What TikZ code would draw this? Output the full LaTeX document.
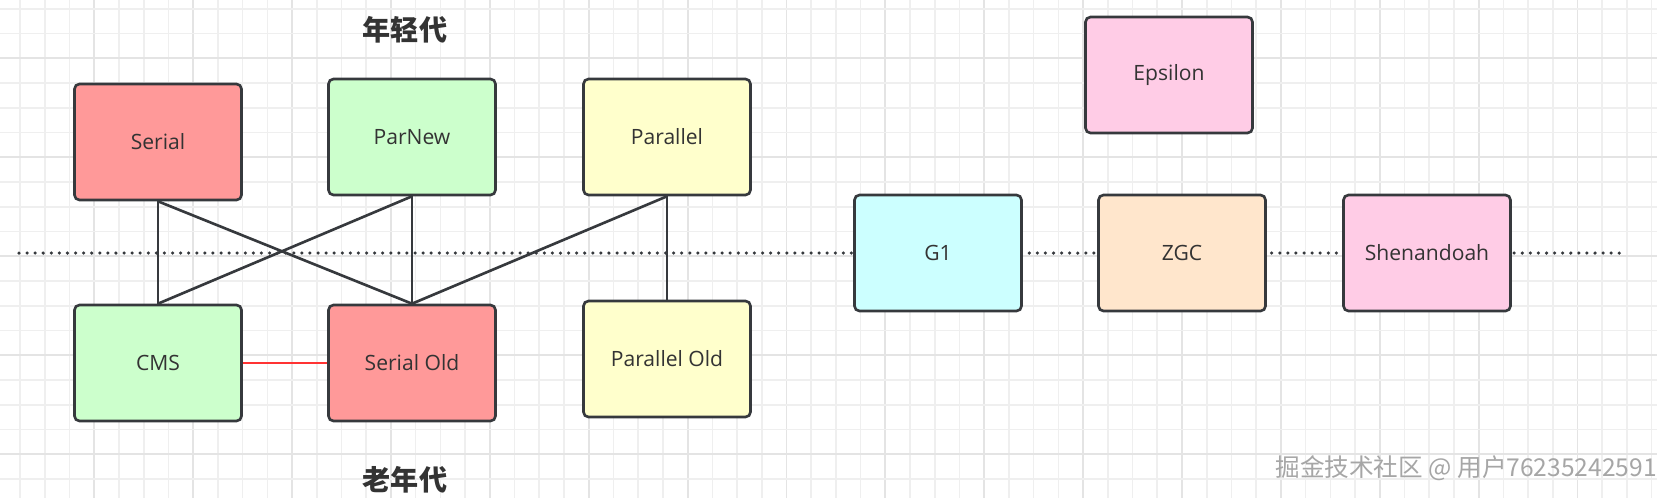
\documentclass[tikz,border=0pt]{standalone}
\usepackage{fontspec}
\setmainfont{Open Sans}
\newfontfamily\cjk{Noto Sans CJK SC}

\definecolor{gcred}{HTML}{FF9999}
\definecolor{gcgreen}{HTML}{CCFFCC}
\definecolor{gcyellow}{HTML}{FFFFCC}
\definecolor{gcpink}{HTML}{FFCCE6}
\definecolor{gccyan}{HTML}{CCFFFF}
\definecolor{gcorange}{HTML}{FFE6CC}
\definecolor{gcedge}{HTML}{36393D}
\definecolor{gctext}{HTML}{333333}
\definecolor{gcmark}{HTML}{FF3333}
\definecolor{gridmin}{HTML}{EFEFEF}
\definecolor{gridmaj}{HTML}{E4E4E4}

\tikzset{
  gcbox/.style={draw=gcedge,line width=1.5pt,rounded corners=2.8pt,
    minimum width=3.34cm,minimum height=2.32cm,inner sep=0pt,
    text=gctext,font=\fontsize{12}{14}\selectfont},
  gcline/.style={draw=gcedge,line width=1.5pt},
  cmsline/.style={draw=gcmark,line width=1.5pt},
  gendiv/.style={draw=gcedge,line width=2pt,line cap=round,dash pattern=on 0pt off 4.6pt},
  gentitle/.style={font=\cjk\bfseries\fontsize{16}{18}\selectfont,text=gctext},
}

\begin{document}
\begin{tikzpicture}[x=0.02cm,y=-0.02cm]
\useasboundingbox (0,0) rectangle (1680,498);
\fill[white] (0,0) rectangle (1680,498);
% grid
\foreach \k in {-3,...,63}{
  \pgfmathsetmacro\gx{94.3+\k*24.72}
  \pgfmathtruncatemacro\km{mod(\k+400,4)}
  \ifnum\km=0 \draw[gridmaj,line width=1.1pt] (\gx,0) -- (\gx,498);
  \else \draw[gridmin,line width=0.9pt] (\gx,0) -- (\gx,498); \fi
}
\foreach \k in {-2,...,17}{
  \pgfmathsetmacro\gy{58.3+\k*24.75}
  \pgfmathtruncatemacro\km{mod(\k+400,4)}
  \ifnum\km=0 \draw[gridmaj,line width=1.1pt] (0,\gy) -- (1657,\gy);
  \else \draw[gridmin,line width=0.9pt] (0,\gy) -- (1657,\gy); \fi
}

% young / old divider
\coordinate (divL) at (19,253);
\coordinate (divR) at (1626,253);
\draw[gendiv] (divL) -- (divR);

\node[gentitle] (young) at (405,30) {年轻代};
\node[gentitle] (old) at (405,480) {老年代};

% collectors
\node[gcbox,fill=gcred] (serial) at (158,142) {Serial};
\node[gcbox,fill=gcgreen] (parnew) at (412,137) {ParNew};
\node[gcbox,fill=gcyellow] (parallel) at (667,137) {Parallel};
\node[gcbox,fill=gcgreen] (cms) at (158,363) {CMS};
\node[gcbox,fill=gcred] (serialold) at (412,363) {Serial Old};
\node[gcbox,fill=gcyellow] (parallelold) at (667,359) {Parallel Old};
\node[gcbox,fill=gcpink] (epsilon) at (1169,75) {Epsilon};
\node[gcbox,fill=gccyan] (gone) at (938,253) {G1};
\node[gcbox,fill=gcorange] (zgc) at (1182,253) {ZGC};
\node[gcbox,fill=gcpink] (shenandoah) at (1427,253) {Shenandoah};

% combinations
\draw[gcline] (serial.south) -- (cms.north);
\draw[gcline] (serial.south) -- (serialold.north);
\draw[gcline] (parnew.south) -- (cms.north);
\draw[gcline] (parnew.south) -- (serialold.north);
\draw[gcline] (parallel.south) -- (serialold.north);
\draw[gcline] (parallel.south) -- (parallelold.north);
\draw[cmsline] (cms.east) -- (serialold.west);

\node[anchor=east,text=gray!70,font=\cjk\fontsize{14}{16}\selectfont] (mark) at (1663,468) {掘金技术社区 @ 用户76235242591};
\end{tikzpicture}
\end{document}
